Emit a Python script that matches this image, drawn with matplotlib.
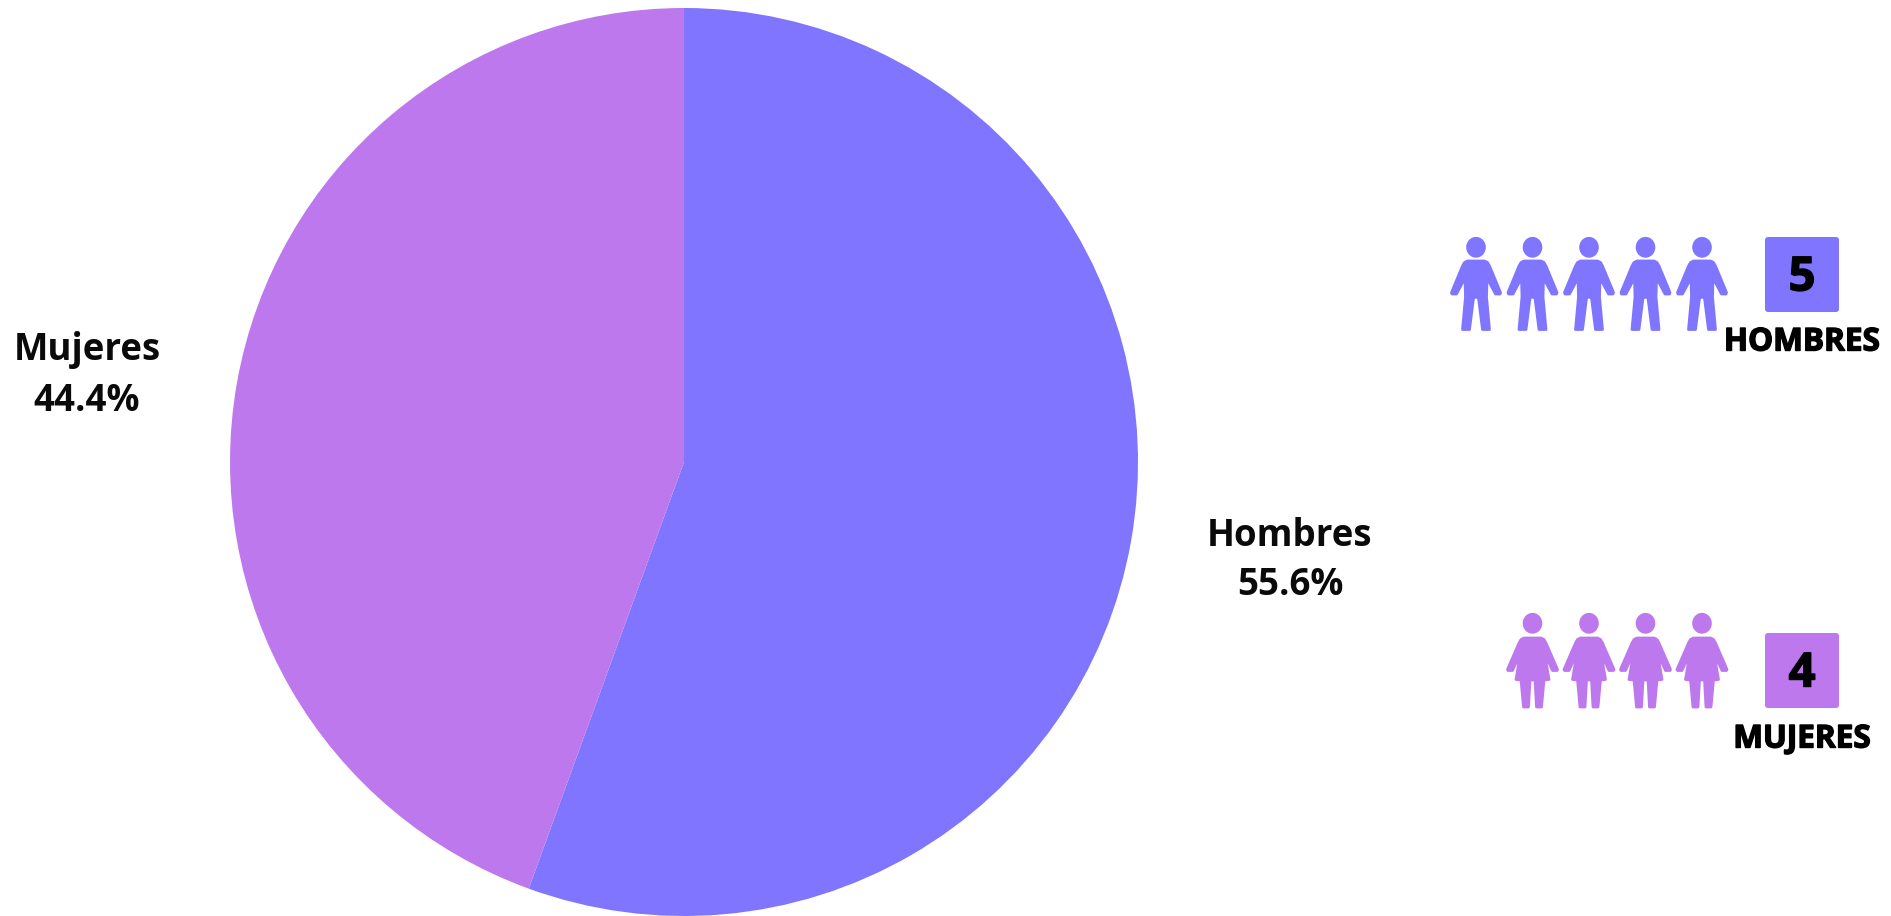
import matplotlib
matplotlib.use('Agg')
import matplotlib.pyplot as plt
import matplotlib.patheffects as pe
from matplotlib.patches import Ellipse, FancyBboxPatch, Polygon

categorias = ['Hombres', 'Mujeres']
valores = [5, 4]
etiquetas_caja = ['HOMBRES', 'MUJERES']
colores = ['#7F75FF', '#BC78EC']

plt.rcParams['font.family'] = ['Open Sans', 'DejaVu Sans']

W, H = 1891, 916
fig = plt.figure(figsize=(W / 100, H / 100), dpi=100, facecolor='white')

# pastel
cx, cy, r = 684, 462, 454
ax = fig.add_axes([(cx - r) / W, (H - cy - r) / H, 2 * r / W, 2 * r / H])
ax.pie(valores, colors=colores, startangle=90, counterclock=False, radius=1)
ax.set_xlim(-1, 1)
ax.set_ylim(-1, 1)

# capa en pixeles para textos e iconos
capa = fig.add_axes([0, 0, 1, 1])
capa.set_xlim(0, W)
capa.set_ylim(H, 0)
capa.axis('off')

total = sum(valores)
pos_etiquetas = [(1290, 536, 585), (87, 350, 401)]
for cat, val, (x, y1, y2) in zip(categorias, valores, pos_etiquetas):
    capa.text(x, y1, cat, ha='center', va='center', fontsize=26.4, fontweight='bold', color='#0a0a0a')
    capa.text(x, y2, f'{100 * val / total:.1f}%', ha='center', va='center', fontsize=26.4,
              fontweight='bold', color='#0a0a0a')

# silueta media (x, y desde la cabeza)
hombre = [(0, 24), (8.5, 24), (11.5, 25.5), (13.5, 29), (24.5, 55.5), (24, 57), (19.5, 57),
          (11, 41), (10.5, 60), (13.5, 92.5), (6.5, 92.5), (2.5, 61), (0, 60)]
mujer = [(0, 25), (8.5, 25), (11.5, 26.5), (13.5, 30), (25, 56.5), (24.5, 57.5), (20, 57.5),
         (12, 40), (16.5, 66.5), (11.5, 67), (9, 94), (4, 94), (2.5, 67), (0, 67)]


def dibuja_persona(x, top, media, color):
    capa.add_patch(Ellipse((x, top + 10.3), 19.6, 20.8, fc=color, ec='none'))
    der = [(x + a, top + b) for a, b in media]
    izq = [(x - a, top + b) for a, b in reversed(media)]
    capa.add_patch(Polygon(der + izq, closed=True, fc=color, ec=color, lw=2.0, joinstyle='round'))


def dibuja_grupo(n, top, media, color, box_top, valor, texto, texto_y):
    for i in range(n):
        dibuja_persona(1702 - i * 56.5, top, media, color)
    capa.add_patch(FancyBboxPatch((1768, box_top + 3), 68, 69, boxstyle='round,pad=3,rounding_size=3',
                                  fc=color, ec='none'))
    grueso = [pe.withStroke(linewidth=1.0, foreground='black')]
    capa.text(1802, box_top + 41, str(valor), ha='center', va='center', fontsize=34,
              fontweight='bold', color='black', path_effects=grueso)
    capa.text(1802, texto_y, texto, ha='center', va='center', fontsize=22.7, fontweight='bold',
              color='black', path_effects=grueso)


dibuja_grupo(valores[0], 237, hombre, colores[0], 237, valores[0], etiquetas_caja[0], 342)
dibuja_grupo(valores[1], 613, mujer, colores[1], 633, valores[1], etiquetas_caja[1], 739)

fig.savefig('out.png', dpi=100, facecolor='white')
